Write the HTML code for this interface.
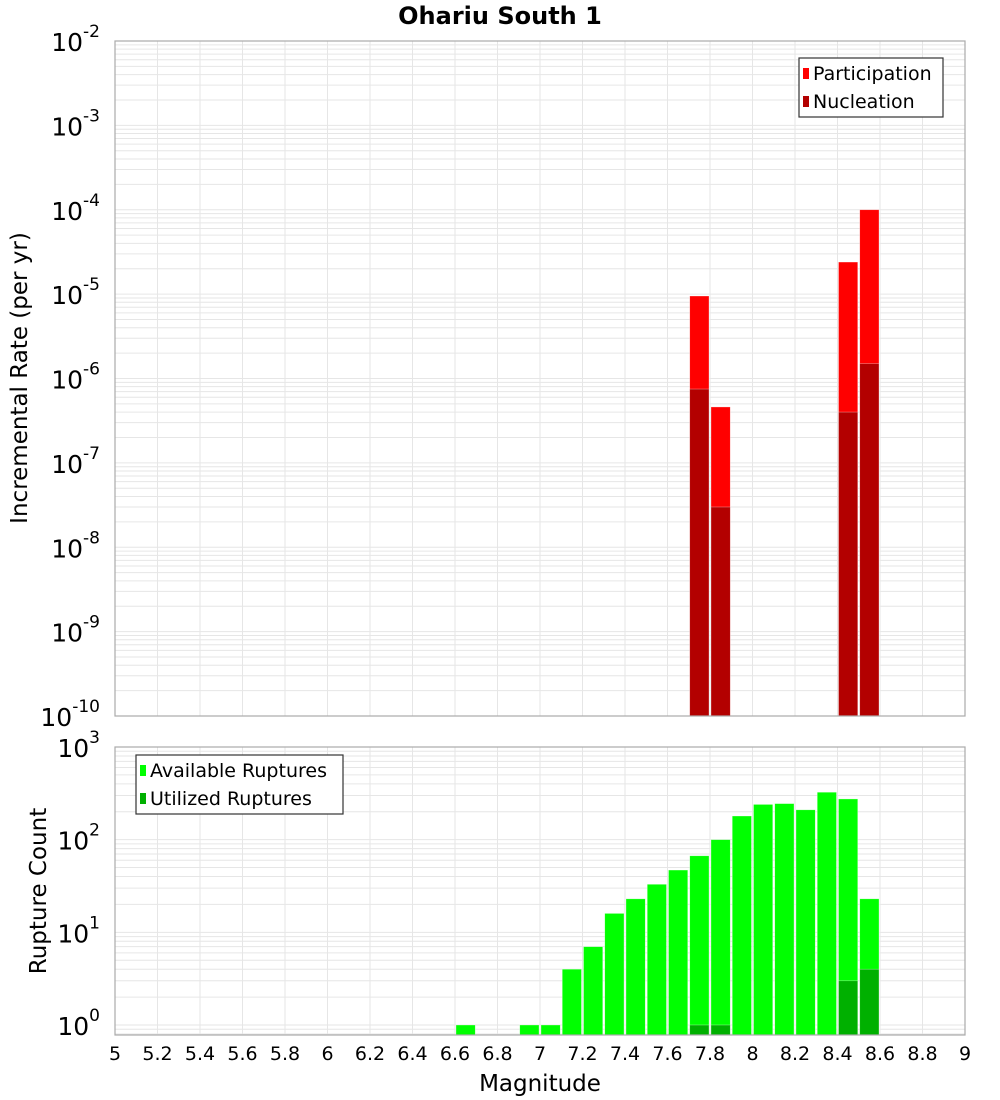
<!DOCTYPE html>
<html><head><meta charset="utf-8">
<style>
body{margin:0;background:#fff;}
svg{display:block;font-family:"Liberation Sans","DejaVu Sans",sans-serif;}
</style></head>
<body>
<svg id="chart" width="1000" height="1100" viewBox="0 0 1000 1100" xmlns="http://www.w3.org/2000/svg">
<text x="500" y="24" text-anchor="middle" font-size="24" font-weight="bold" font-family="DejaVu Sans, sans-serif">Ohariu South 1</text>
<text transform="translate(27,378) rotate(-90)" text-anchor="middle" font-size="23" font-family="DejaVu Sans, sans-serif">Incremental Rate (per yr)</text>
<text transform="translate(46,891) rotate(-90)" text-anchor="middle" font-size="23" font-family="DejaVu Sans, sans-serif">Rupture Count</text>
<text x="540" y="1091" text-anchor="middle" font-size="23" font-family="DejaVu Sans, sans-serif">Magnitude</text>
<g id="topPanel"></g>
<g id="botPanel"></g>
</svg>
<script>
// Data
const rateMags = [7.7, 7.8, 8.4, 8.5];
const participation = [9.5e-6, 4.6e-7, 2.4e-5, 1.0e-4];
const nucleation = [7.5e-7, 3.0e-8, 4.0e-7, 1.5e-6];
const countMags = [6.6, 6.9, 7.0, 7.1, 7.2, 7.3, 7.4, 7.5, 7.6, 7.7, 7.8, 7.9, 8.0, 8.1, 8.2, 8.3, 8.4, 8.5];
const available = [1, 1, 1, 4, 7, 16, 23, 33, 47, 67, 100, 180, 240, 245, 210, 325, 275, 23];
const utilMags = [7.7, 7.8, 8.4, 8.5];
const utilized = [1, 1, 3, 4];
const xTicks = ["5","5.2","5.4","5.6","5.8","6","6.2","6.4","6.6","6.8","7","7.2","7.4","7.6","7.8","8","8.2","8.4","8.6","8.8","9"];
const topExps = [-2,-3,-4,-5,-6,-7,-8,-9,-10];
const botExps = [3,2,1,0];

const NS = "http://www.w3.org/2000/svg";
const X0 = 115, X1 = 965;
const xs = m => X0 + (m - 5) / 4 * (X1 - X0);
const TP = {top: 41, bot: 716, hi: -2, lo: -10};
const BP = {top: 747, bot: 1035, hi: 3, lo: -0.108};
const ys = (p, v) => p.top + (p.hi - Math.log10(v)) / (p.hi - p.lo) * (p.bot - p.top);
function mk(parent, tag, attrs, text) {
  const e = document.createElementNS(NS, tag);
  for (const k in attrs) e.setAttribute(k, attrs[k]);
  if (text !== undefined) e.textContent = text;
  parent.appendChild(e); return e;
}
function panel(g, p, name) {
  mk(g, "rect", {x: X0, y: p.top, width: X1 - X0, height: p.bot - p.top, fill: "#fff"});
  for (let d = Math.floor(p.lo); d < p.hi; d++) {
    for (let k = 1; k <= 9; k++) {
      const v = k * Math.pow(10, d);
      const lv = Math.log10(v);
      if (lv < p.lo || lv > p.hi) continue;
      const y = ys(p, v);
      const l = mk(g, "line", {x1: X0, x2: X1, y1: y, y2: y, stroke: "#e6e6e6", "stroke-width": 1});
      
      
    }
  }
  xTicks.forEach(t => {
    const x = xs(parseFloat(t));
    const l = mk(g, "line", {x1: x, x2: x, y1: p.top, y2: p.bot, stroke: "#e6e6e6", "stroke-width": 1});
    
    
  });
}
function frame(g, p, name) {
  const r = mk(g, "rect", {x: X0, y: p.top, width: X1 - X0, height: p.bot - p.top, fill: "none", stroke: "#aaa", "stroke-width": 1.2});
  
  
}
function yLabels(g, p, exps, name) {
  exps.forEach(e => {
    const y = ys(p, Math.pow(10, e));
    const t = mk(g, "text", {x: 100, y: y + 10, "text-anchor": "end", "font-size": 25, "font-family": "DejaVu Sans, sans-serif"});
    
    
    mk(t, "tspan", {}, "10");
    mk(t, "tspan", {dy: -14, "font-size": 17}, String(e));
  });
}
function bars(g, p, mags, vals, color, name) {
  mags.forEach((m, i) => {
    const x0 = xs(m) + 1, x1 = xs(m + 0.1) - 1;
    const y = ys(p, vals[i]);
    const r = mk(g, "rect", {x: x0, y: y, width: x1 - x0, height: p.bot - y, fill: color, stroke: "rgba(255,255,255,0.5)", "stroke-width": 0.6});
    
    
  });
}
function legend(g, x, y, w, items, name) {
  const lg = mk(g, "g", {});
  
  
  mk(lg, "rect", {x: x, y: y, width: w, height: 59, fill: "#fff", stroke: "#333", "stroke-width": 1.2});
  items.forEach((it, i) => {
    const e = mk(lg, "g", {});
    
    
    mk(e, "rect", {x: x + 4, y: y + 10 + i * 28, width: 6, height: 11, fill: it[1]});
    mk(e, "text", {x: x + 14, y: y + 22 + i * 28, "font-size": 19, "font-family": "DejaVu Sans, sans-serif"}, it[0]);
  });
}
const topG = document.getElementById("topPanel");


panel(topG, TP, "rate");
bars(topG, TP, rateMags, participation, "#ff0000", "participation");
bars(topG, TP, rateMags, nucleation, "#b30000", "nucleation");
frame(topG, TP, "rate");
yLabels(topG, TP, topExps, "rate");
legend(topG, 799, 58, 144, [["Participation", "#ff0000"], ["Nucleation", "#b30000"]], "rate-legend");

const botG = document.getElementById("botPanel");


panel(botG, BP, "count");
bars(botG, BP, countMags, available, "#00ff00", "available");
bars(botG, BP, utilMags, utilized, "#00b000", "utilized");
frame(botG, BP, "count");
yLabels(botG, BP, botExps, "count");
legend(botG, 136, 755, 207, [["Available Ruptures", "#00ff00"], ["Utilized Ruptures", "#00b000"]], "count-legend");
xTicks.forEach(t => {
  const tx = mk(botG, "text", {x: xs(parseFloat(t)), y: 1060, "text-anchor": "middle", "font-size": 19, "font-family": "DejaVu Sans, sans-serif"}, t);
  
  
});
</script>
</body></html>
